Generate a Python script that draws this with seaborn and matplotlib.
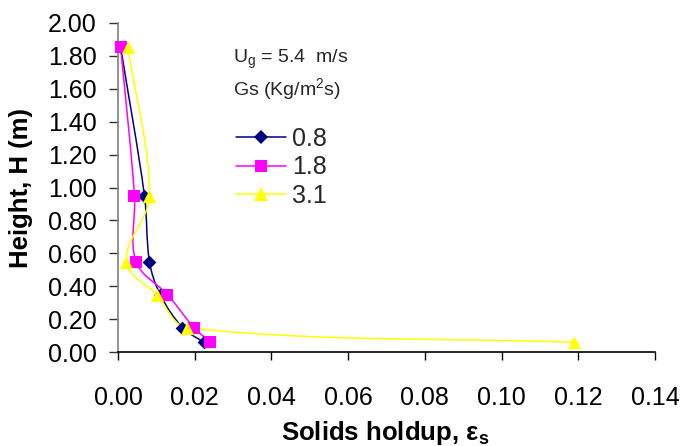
import numpy as np
import pandas as pd
import matplotlib
matplotlib.use("Agg")
import matplotlib.pyplot as plt
import seaborn as sns
from matplotlib.path import Path
from matplotlib.patches import PathPatch
from matplotlib.lines import Line2D

# Axial solids holdup profiles at Ug = 5.4 m/s for three solids fluxes
heights = [1.85, 0.95, 0.55, 0.35, 0.15, 0.06]
holdup_08 = [0.0007, 0.0069, 0.0082, 0.0110, 0.0168, 0.0224]
holdup_18 = [0.0007, 0.0043, 0.0047, 0.0129, 0.0198, 0.0241]
holdup_31 = [0.0026, 0.0082, 0.0022, 0.0101, 0.0180, 0.1190]
flux_labels = ["0.8", "1.8", "3.1"]
colors = ["#000080", "#FF00FF", "#FFFF00"]
markers = ["D", "s", "^"]
marker_sizes = [7, 8, 9.5]

x_ticks = [0.00, 0.02, 0.04, 0.06, 0.08, 0.10, 0.12, 0.14]
y_ticks = [0.0, 0.2, 0.4, 0.6, 0.8, 1.0, 1.2, 1.4, 1.6, 1.8, 2.0]

df = pd.DataFrame({
    "holdup": holdup_08 + holdup_18 + holdup_31,
    "height": heights * 3,
    "Gs": [g for g in flux_labels for _ in heights],
})

sns.set_theme(style="white")
plt.rcParams["font.family"] = ["Liberation Sans", "DejaVu Sans"]
plt.rcParams["mathtext.fontset"] = "custom"
plt.rcParams["mathtext.rm"] = "Liberation Sans"
plt.rcParams["mathtext.bf"] = "Liberation Sans:bold"

fig = plt.figure(figsize=(6.82, 4.46), dpi=100)
ax = fig.add_axes([118 / 682, 1 - 352.3 / 446, 537 / 682, 329.6 / 446])
ax.set_xlim(0, 0.14)
ax.set_ylim(0, 2.0)


def smooth_path(xs, ys, k=1.0 / 3.0):
    """Smoothed line through the points: cubic Bezier segments whose
    tangents follow the neighbouring chord, sized by each segment's length
    (worked out in screen space so both axes count equally)."""
    pts = ax.transData.transform(np.column_stack([xs, ys]))
    n = len(pts)
    tang = []
    for i in range(n):
        a = pts[max(i - 1, 0)]
        b = pts[min(i + 1, n - 1)]
        d = b - a
        tang.append(d / np.hypot(*d))
    verts = [pts[0]]
    codes = [Path.MOVETO]
    for i in range(n - 1):
        p1, p2 = pts[i], pts[i + 1]
        seg = np.hypot(*(p2 - p1)) * k
        verts += [p1 + tang[i] * seg, p2 - tang[i + 1] * seg, p2]
        codes += [Path.CURVE4] * 3
    data_verts = ax.transData.inverted().transform(np.array(verts))
    return Path(data_verts, codes)


for i, g in enumerate(flux_labels):
    sub = df[df["Gs"] == g]
    patch = PathPatch(smooth_path(sub["holdup"].values, sub["height"].values),
                      facecolor="none", edgecolor=colors[i], lw=1.1,
                      zorder=2 + i)
    ax.add_patch(patch)
    sns.scatterplot(data=sub, x="holdup", y="height", ax=ax,
                    marker=markers[i], color=colors[i],
                    s=marker_sizes[i] ** 2, edgecolor=colors[i],
                    linewidth=0, zorder=5 + i, legend=False, clip_on=False)

ax.set_xticks(x_ticks)
ax.set_xticklabels([f"{v:.2f}" for v in x_ticks])
ax.set_yticks(y_ticks)
ax.set_yticklabels([f"{v:.2f}" for v in y_ticks])

for side in ["top", "right"]:
    ax.spines[side].set_visible(False)
ax.spines["left"].set_color("#808080")
ax.spines["bottom"].set_color("black")
ax.spines["left"].set_linewidth(1.2)
ax.spines["bottom"].set_linewidth(1.2)

ax.tick_params(axis="x", direction="out", length=6, width=1, color="black",
               pad=18, labelsize=18, labelcolor="black", bottom=True)
ax.tick_params(axis="y", direction="out", length=6.5, width=1, color="#333333",
               pad=9, labelsize=18, labelcolor="black", left=True)

ax.set_xlabel("Solids holdup, ε$_{\\mathbf{s}}$", fontsize=18.5,
              fontweight="bold", color="black")
ax.xaxis.set_label_coords((385 - 118) / 537, (352.3 - 419) / 329.6)
ax.set_ylabel("Height, H (m)", fontsize=18.5, fontweight="bold",
              color="black")
ax.yaxis.set_label_coords((33 - 118) / 537, 0.5)

ax.text(233 / 682, 1 - 59 / 446, "U$_\\mathregular{g}$ = 5.4  m/s",
        transform=fig.transFigure, fontsize=14, va="center", ha="left")
ax.text(233 / 682, 1 - 90 / 446, "Gs (Kg/m$^\\mathregular{2}$s)",
        transform=fig.transFigure, fontsize=14, va="center", ha="left")

handles = [Line2D([0], [0], color=colors[i], lw=1.1, marker=markers[i],
                  markersize=marker_sizes[i], markeredgewidth=0)
           for i in range(3)]
leg = ax.legend(handles, flux_labels, loc="upper left",
                bbox_to_anchor=(236 / 682, 1 - 127 / 446),
                bbox_transform=fig.transFigure, frameon=False, fontsize=18,
                handlelength=2.0, handletextpad=0.25, labelspacing=0.18,
                borderpad=0, borderaxespad=0)

fig.savefig("out.png", dpi=100, facecolor="white")
